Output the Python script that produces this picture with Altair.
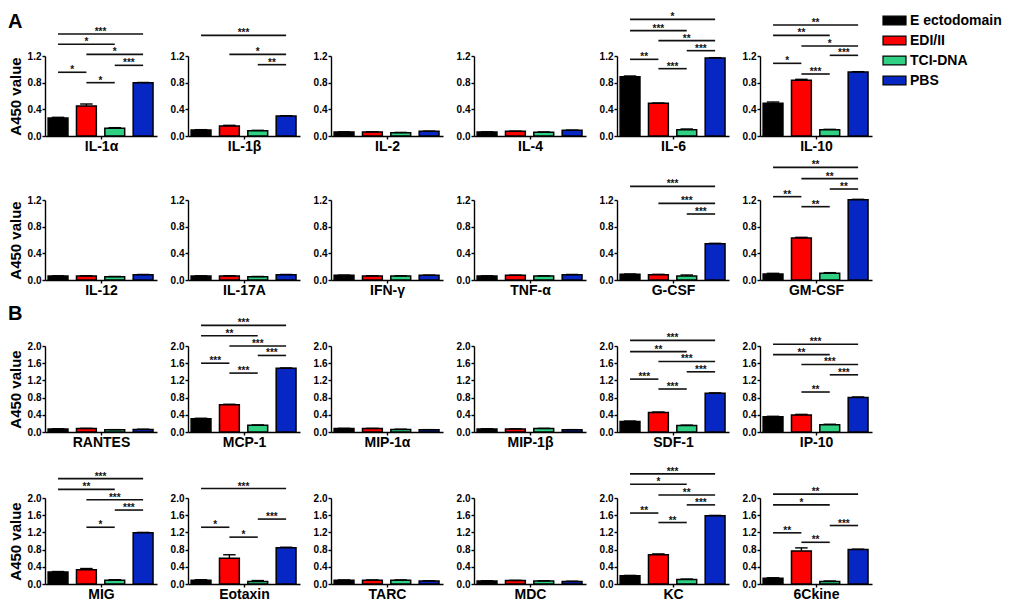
import altair as alt
import pandas as pd

FONT = "Liberation Sans"

groups = ["E ectodomain", "EDI/II", "TCI-DNA", "PBS"]
colors = ["#000000", "#ff0000", "#2fd081", "#0627c4"]

# ---------------- Panel A, row 1 ----------------
rowA1_names = ["IL-1α", "IL-1β", "IL-2", "IL-4", "IL-6", "IL-10"]
rowA1_means = [
    [0.27, 0.45, 0.115, 0.80],
    [0.09, 0.15, 0.08, 0.30],
    [0.06, 0.06, 0.05, 0.07],
    [0.06, 0.07, 0.055, 0.085],
    [0.89, 0.49, 0.095, 1.17],
    [0.49, 0.835, 0.095, 0.96],
]
rowA1_errs = [
    [0.01, 0.03, 0.01, 0.003],
    [0.005, 0.01, 0.005, 0.003],
    [0.003, 0.003, 0.004, 0.003],
    [0.003, 0.003, 0.006, 0.003],
    [0.01, 0.005, 0.01, 0.005],
    [0.02, 0.015, 0.005, 0.005],
]
rowA1_sig = [
    [(0, 3, 1.53, "***"), (0, 2, 1.376, "*"), (1, 3, 1.225, "*"),
     (2, 3, 1.06, "***"), (0, 1, 0.956, "*"), (1, 2, 0.80, "*")],
    [(0, 3, 1.51, "***"), (1, 3, 1.225, "*"), (2, 3, 1.07, "**")],
    [],
    [],
    [(0, 3, 1.75, "*"), (0, 2, 1.58, "***"), (1, 3, 1.43, "**"),
     (2, 3, 1.28, "***"), (0, 1, 1.15, "**"), (1, 2, 1.01, "***")],
    [(0, 3, 1.665, "**"), (0, 2, 1.51, "**"), (1, 3, 1.35, "*"),
     (2, 3, 1.21, "***"), (0, 1, 1.09, "*"), (1, 2, 0.93, "***")],
]

# ---------------- Panel A, row 2 ----------------
rowA2_names = ["IL-12", "IL-17A", "IFN-γ", "TNF-α", "G-CSF", "GM-CSF"]
rowA2_means = [
    [0.06, 0.06, 0.05, 0.08],
    [0.06, 0.06, 0.05, 0.08],
    [0.07, 0.06, 0.06, 0.07],
    [0.06, 0.07, 0.06, 0.08],
    [0.085, 0.08, 0.06, 0.545],
    [0.09, 0.63, 0.10, 1.205],
]
rowA2_errs = [
    [0.003, 0.003, 0.003, 0.003],
    [0.003, 0.003, 0.003, 0.003],
    [0.003, 0.003, 0.003, 0.003],
    [0.003, 0.003, 0.003, 0.003],
    [0.005, 0.005, 0.015, 0.005],
    [0.01, 0.01, 0.01, 0.005],
]
rowA2_sig = [
    [], [], [], [],
    [(0, 3, 1.405, "***"), (1, 3, 1.15, "***"), (2, 3, 0.99, "***")],
    [(0, 3, 1.69, "**"), (1, 3, 1.52, "**"), (2, 3, 1.365, "**"),
     (0, 1, 1.25, "**"), (1, 2, 1.10, "**")],
]

# ---------------- Panel B, row 1 ----------------
rowB1_names = ["RANTES", "MCP-1", "MIP-1α", "MIP-1β", "SDF-1", "IP-10"]
rowB1_means = [
    [0.07, 0.08, 0.05, 0.06],
    [0.31, 0.635, 0.155, 1.48],
    [0.08, 0.08, 0.06, 0.05],
    [0.07, 0.07, 0.08, 0.05],
    [0.245, 0.455, 0.15, 0.90],
    [0.355, 0.395, 0.17, 0.805],
]
rowB1_errs = [
    [0.005, 0.005, 0.005, 0.005],
    [0.01, 0.01, 0.01, 0.01],
    [0.005, 0.005, 0.005, 0.005],
    [0.005, 0.005, 0.005, 0.005],
    [0.01, 0.01, 0.01, 0.01],
    [0.01, 0.015, 0.01, 0.01],
]
rowB1_sig = [
    [],
    [(0, 3, 2.48, "***"), (0, 2, 2.24, "**"), (1, 3, 2.0, "***"),
     (2, 3, 1.78, "***"), (0, 1, 1.60, "***"), (1, 2, 1.37, "***")],
    [], [],
    [(0, 3, 2.13, "***"), (0, 2, 1.87, "**"), (1, 3, 1.64, "***"),
     (2, 3, 1.40, "***"), (0, 1, 1.23, "***"), (1, 2, 1.0, "***")],
    [(0, 3, 2.04, "***"), (0, 2, 1.80, "**"), (1, 3, 1.57, "***"),
     (2, 3, 1.33, "***"), (1, 2, 0.93, "**")],
]

# ---------------- Panel B, row 2 ----------------
rowB2_names = ["MIG", "Eotaxin", "TARC", "MDC", "KC", "6Ckine"]
rowB2_means = [
    [0.28, 0.33, 0.09, 1.19],
    [0.09, 0.60, 0.06, 0.845],
    [0.09, 0.09, 0.09, 0.07],
    [0.07, 0.08, 0.07, 0.06],
    [0.19, 0.68, 0.105, 1.585],
    [0.135, 0.77, 0.06, 0.80],
]
rowB2_errs = [
    [0.01, 0.03, 0.01, 0.01],
    [0.01, 0.08, 0.02, 0.01],
    [0.005, 0.005, 0.005, 0.005],
    [0.005, 0.005, 0.005, 0.005],
    [0.01, 0.02, 0.01, 0.01],
    [0.01, 0.07, 0.01, 0.01],
]
rowB2_sig = [
    [(0, 3, 2.45, "***"), (0, 2, 2.20, "**"), (1, 3, 1.96, "***"),
     (2, 3, 1.72, "***"), (1, 2, 1.32, "*")],
    [(0, 3, 2.22, "***"), (2, 3, 1.51, "***"), (0, 1, 1.32, "*"),
     (1, 2, 1.09, "*")],
    [], [],
    [(0, 3, 2.56, "***"), (0, 2, 2.32, "*"), (1, 3, 2.07, "**"),
     (2, 3, 1.84, "***"), (0, 1, 1.65, "**"), (1, 2, 1.43, "**")],
    [(0, 3, 2.09, "**"), (0, 2, 1.84, "*"), (2, 3, 1.36, "***"),
     (0, 1, 1.19, "**"), (1, 2, 0.97, "**")],
]

ticks_A = [0.0, 0.4, 0.8, 1.2]
ticks_B = [0.0, 0.4, 0.8, 1.2, 1.6, 2.0]

PANEL_W = 112
H_A = 80
H_B = 86

legend = alt.Legend(
    title=None, orient="none", legendX=837, legendY=-48, padding=0,
    symbolType="M-1,-0.38H1V0.38H-1Z", symbolSize=529,
    symbolStrokeColor="black", symbolStrokeWidth=1.2, symbolOpacity=1,
    labelFont=FONT, labelFontSize=14, labelFontWeight="bold",
    labelColor="black", labelOffset=3, rowPadding=0,
)


def panel(name, means, errs, sigs, ymax, yticks, height, first):
    df = pd.DataFrame({"group": groups, "idx": list(range(4)),
                       "mean": means, "err": errs})
    df["x0"] = df["idx"] - 0.35
    df["x1"] = df["idx"] + 0.35
    df["c0"] = df["idx"] - 0.22
    df["c1"] = df["idx"] + 0.22
    df["top"] = df["mean"] + df["err"]
    df["base"] = 0.0

    xs = alt.Scale(domain=[-0.46, 3.49], nice=False, zero=False)
    ys = alt.Scale(domain=[0, ymax], nice=False, zero=False)

    xaxis = alt.Axis(values=[1.5], labels=False, grid=False, title=name,
                     tickSize=3, titlePadding=0, titleFontSize=14,
                     titleFontWeight="bold")
    if first:
        yaxis = alt.Axis(values=yticks, format=".1f", grid=False,
                         title="A450 value", titleFontSize=15,
                         titleFontWeight="bold", titlePadding=4,
                         labelFontSize=10, labelFontWeight="bold",
                         labelPadding=1, tickSize=3)
    else:
        yaxis = alt.Axis(values=yticks, format=".1f", grid=False,
                         title=None, labelFontSize=10,
                         labelFontWeight="bold", labelPadding=1, tickSize=3)

    def X(f):
        return alt.X(f, scale=xs, axis=xaxis)

    def Y(f):
        return alt.Y(f, scale=ys, axis=yaxis)

    base = alt.Chart(df)
    bars = base.mark_bar(stroke="black", strokeWidth=1.5).encode(
        x=X("x0:Q"),
        x2="x1:Q",
        y=Y("mean:Q"),
        y2="base:Q",
        color=alt.Color("group:N", scale=alt.Scale(domain=groups, range=colors),
                        legend=legend),
    )
    stem = base.mark_rule(color="black", strokeWidth=1.4).encode(
        x=X("idx:Q"),
        y=Y("mean:Q"),
        y2="top:Q",
    )
    cap = base.mark_rule(color="black", strokeWidth=1.4).encode(
        x=X("c0:Q"),
        x2="c1:Q",
        y=Y("top:Q"),
    )
    layers = [bars, stem, cap]
    if sigs:
        sdf = pd.DataFrame(sigs, columns=["i", "j", "level", "label"])
        sdf["mid"] = (sdf["i"] + sdf["j"]) / 2
        lines = alt.Chart(sdf).mark_rule(color="#111111", strokeWidth=1.6).encode(
            x=X("i:Q"),
            x2="j:Q",
            y=Y("level:Q"),
        )
        stars = alt.Chart(sdf).mark_text(
            font=FONT, fontSize=10, fontWeight="bold", baseline="alphabetic",
            dy=1, color="#111111").encode(
            x=X("mid:Q"),
            y=Y("level:Q"),
            text="label:N",
        )
        layers += [lines, stars]
    return alt.layer(*layers).properties(width=PANEL_W, height=height)


def row(names, means, errs, sigs, ymax, yticks, height):
    return alt.hconcat(*[
        panel(names[k], means[k], errs[k], sigs[k], ymax, yticks, height, k == 0)
        for k in range(6)
    ], spacing=13)


rA1 = row(rowA1_names, rowA1_means, rowA1_errs, rowA1_sig, 1.2, ticks_A, H_A)
rA2 = row(rowA2_names, rowA2_means, rowA2_errs, rowA2_sig, 1.2, ticks_A, H_A)
rB1 = row(rowB1_names, rowB1_means, rowB1_errs, rowB1_sig, 2.0, ticks_B, H_B)
rB2 = row(rowB2_names, rowB2_means, rowB2_errs, rowB2_sig, 2.0, ticks_B, H_B)

groupA = alt.vconcat(rA1, rA2, spacing=6).properties(
    title=alt.TitleParams("A", anchor="start", font=FONT, fontSize=20,
                          fontWeight="bold", color="black", offset=-20))
groupB = alt.vconcat(rB1, rB2, spacing=16).properties(
    title=alt.TitleParams("B", anchor="start", font=FONT, fontSize=20,
                          fontWeight="bold", color="black", offset=-6))

chart = alt.vconcat(groupA, groupB, spacing=6).properties(
    padding=0
).configure_view(
    stroke=None
).configure_axis(
    domainColor="black", domainWidth=1.4, tickColor="black", tickWidth=1.4,
    labelFont=FONT, titleFont=FONT, labelColor="black", titleColor="black",
)

chart.save("out.html", embed_options={"renderer": "svg", "actions": False})
